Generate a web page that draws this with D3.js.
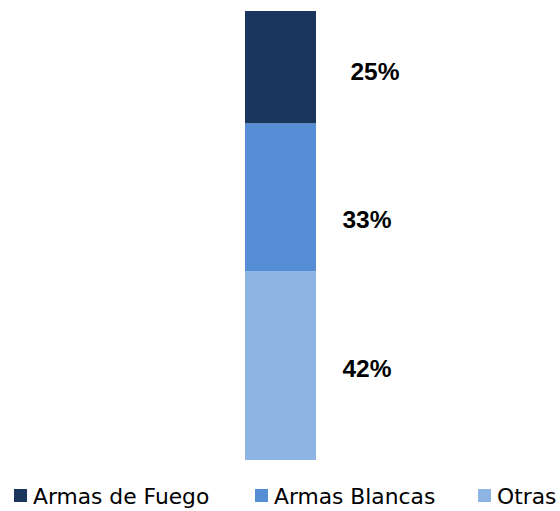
<!DOCTYPE html>
<html><head><meta charset="utf-8">
<script src="https://cdn.jsdelivr.net/npm/d3@7"></script>
<style>body{margin:0;background:#fff}svg{display:block}</style>
</head><body><svg id="c" width="560" height="511"></svg>
<script>
const categories = ["Armas de Fuego", "Armas Blancas", "Otras"];
const values = [25, 33, 42];
const labels = ["25%", "33%", "42%"];
const colors = ["#1a365d", "#558ed5", "#8eb4e3"];
const labelDx = [8, 0, 0];
const labelDy = [5, 23, 3];

const svg = d3.select("#c");
const x = d3.scaleBand().domain(["all"]).range([245, 316]).padding(0);
const y = d3.scaleLinear().domain([0, 100]).range([460, 11]);

const order = [2, 1, 0];
let acc = 0;
const segs = order.map(i => { const s = {i, y0: acc, y1: acc + values[i]}; acc += values[i]; return s; });

svg.selectAll("rect.bar").data(segs).enter().append("rect")
  .attr("x", x("all")).attr("width", x.bandwidth())
  .attr("y", d => y(d.y1)).attr("height", d => y(d.y0) - y(d.y1))
  .attr("fill", d => colors[d.i]);

svg.selectAll("text.lab").data(segs).enter().append("text")
  .attr("x", d => 367 + labelDx[d.i])
  .attr("y", d => y((d.y0 + d.y1) / 2) + 8 + labelDy[d.i])
  .attr("text-anchor", "middle")
  .attr("font-family", "Liberation Sans, Arial, sans-serif")
  .attr("font-weight", "bold").attr("font-size", 24.5)
  .attr("fill", "#000").text(d => labels[d.i]);

const legX = [14, 255, 478];
const lg = svg.selectAll("g.leg").data(categories).enter().append("g")
  .attr("transform", (d, i) => `translate(${legX[i]},489)`);
lg.append("rect").attr("width", 13).attr("height", 13).attr("fill", (d, i) => colors[i]);
lg.append("text").attr("x", 19).attr("y", 15)
  .attr("font-family", "DejaVu Sans, sans-serif")
  .attr("font-size", 21.8).attr("fill", "#000").text(d => d);
</script></body></html>
